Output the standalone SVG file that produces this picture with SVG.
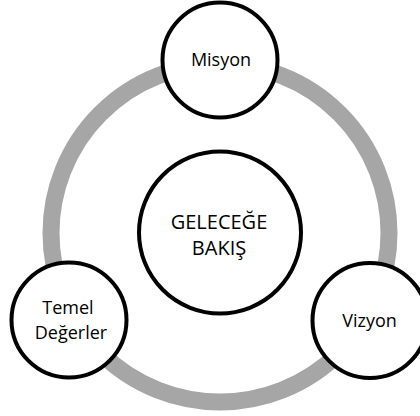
<svg xmlns="http://www.w3.org/2000/svg" width="420" height="416" viewBox="0 0 420 416">
<style>
.node{fill:#ffffff;stroke:#000000;stroke-width:4}
.ring{fill:none;stroke:#a6a6a6;stroke-width:17}
.t{font-family:"Open Sans","Noto Sans","Liberation Sans",sans-serif;fill:#000000;text-anchor:middle}
.s{font-size:18px}
.b{font-size:20px}
</style>
<rect x="0" y="0" width="420" height="416" fill="#ffffff"/>
<g id="connectors">
<circle class="ring" cx="220" cy="233" r="169"/>
</g>
<g id="center">
<circle class="node" cx="220" cy="232.5" r="81"/>
<text class="t b" x="219" y="229.3">GELECEĞE</text>
<text class="t b" x="219" y="254.5">BAKIŞ</text>
</g>
<g id="misyon">
<circle class="node" cx="220" cy="60" r="57.5"/>
<text class="t s" x="221" y="66">Misyon</text>
</g>
<g id="temel">
<circle class="node" cx="69" cy="320" r="57.5"/>
<text class="t s" x="68" y="314">Temel</text>
<text class="t s" x="71" y="338.5">Değerler</text>
</g>
<g id="vizyon">
<circle class="node" cx="370" cy="320.5" r="57.5"/>
<text class="t s" x="369.5" y="326.7">Vizyon</text>
</g>
</svg>
